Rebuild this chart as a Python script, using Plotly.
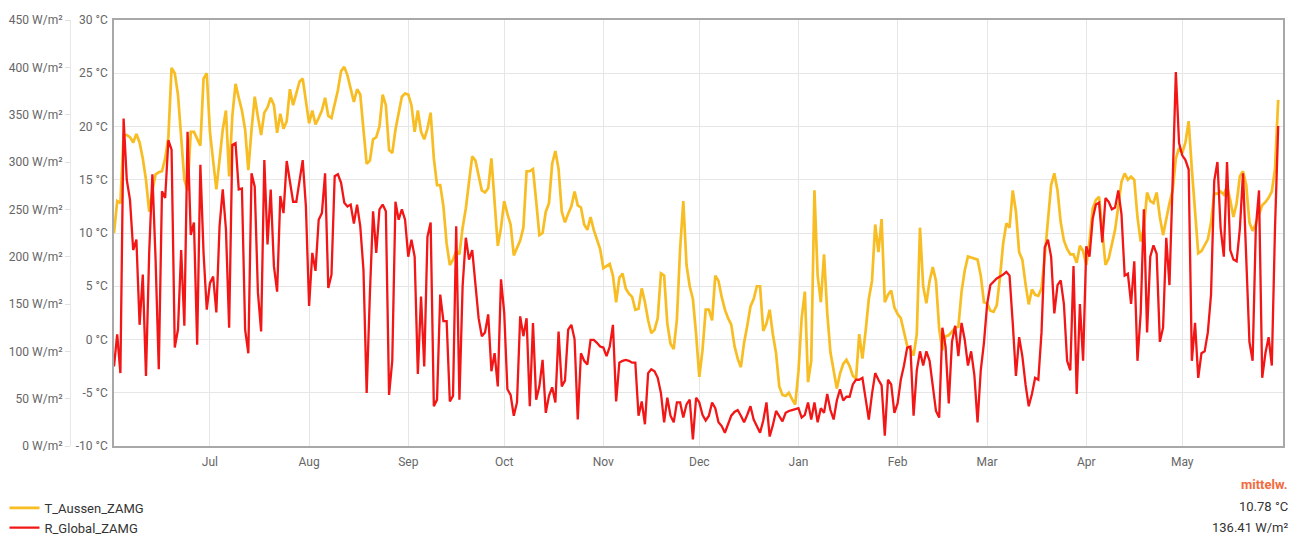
import pandas as pd
import plotly.graph_objects as go

# daily means, 1 Jun 2022 - 31 May 2023
dates = pd.date_range("2022-06-01", "2023-05-31", freq="D")

# T_Aussen_ZAMG in °C, one list per month
t_jun = [10.0, 13.0, 12.8, 19.2, 19.2, 19.0, 18.5, 19.3, 18.5, 17.0, 15.0, 12.0, 14.0, 15.5, 15.7,
         15.8, 17.0, 19.0, 25.5, 25.0, 23.0, 18.5, 15.0, 14.0, 19.5, 19.5, 18.8, 18.2, 24.5, 25.0]
t_jul = [19.5, 16.5, 14.1, 16.9, 19.7, 21.5, 15.3, 21.0, 24.0, 22.7, 21.5, 19.7, 15.9, 19.7, 22.8,
         20.9, 19.2, 21.3, 21.8, 22.7, 22.0, 19.4, 21.2, 19.8, 20.5, 23.5, 22.0, 23.1, 24.2, 24.5, 22.5]
t_aug = [20.3, 21.5, 20.2, 20.8, 21.5, 22.7, 21.0, 20.8, 22.2, 23.4, 25.2, 25.6, 24.8, 23.5, 22.3,
         23.5, 23.0, 19.7, 16.5, 16.8, 18.8, 19.0, 20.0, 23.0, 22.0, 17.8, 17.5, 19.7, 21.3, 22.8, 23.1]
t_sep = [23.0, 22.0, 19.5, 21.5, 19.5, 18.8, 19.8, 21.3, 17.0, 14.5, 14.5, 12.5, 9.0, 7.0, 7.5,
         8.3, 8.0, 10.5, 12.3, 14.8, 17.2, 16.8, 15.5, 14.0, 13.8, 14.2, 17.0, 13.0, 8.8, 10.5]
t_oct = [13.0, 11.8, 10.8, 7.9, 8.6, 9.3, 10.5, 15.8, 15.8, 16.0, 13.0, 9.8, 10.0, 12.0, 12.8,
         16.5, 17.7, 16.0, 12.0, 11.0, 11.8, 12.5, 13.9, 12.6, 12.4, 10.8, 10.3, 11.5, 10.3, 9.3, 8.5]
t_nov = [6.7, 6.9, 7.1, 6.0, 3.5, 5.8, 6.2, 4.8, 4.3, 4.0, 2.8, 2.9, 4.8, 3.5, 1.8,
         0.6, 0.9, 2.0, 6.2, 6.0, 1.5, -0.4, -0.9, 1.9, 8.5, 13.0, 7.0, 5.0, 3.8, 0.5]
t_dec = [-3.5, -1.0, 2.8, 2.8, 1.8, 6.0, 5.5, 4.0, 2.8, 2.0, 1.4, -0.6, -1.8, -2.6, -0.3,
         1.3, 3.1, 3.8, 5.0, 5.0, 0.8, 1.5, 2.8, 0.5, -1.3, -4.4, -5.2, -5.3, -5.0, -5.6, -6.1]
t_jan = [-3.0, 2.0, 4.5, -4.0, -2.0, 14.0, 6.0, 3.5, 8.0, 2.5, -1.2, -2.8, -4.6, -3.2, -2.3,
         -1.9, -2.5, -3.4, -3.7, 0.5, -1.8, 0.8, 3.8, 5.5, 10.8, 8.2, 11.3, 3.5, 4.2, 4.6, 3.0]
t_feb = [2.4, 2.0, 0.7, -0.6, -0.9, -1.5, 0.5, 10.5, 5.0, 3.4, 5.5, 6.8, 5.5, 1.0, -1.0,
         0.3, 0.4, 0.8, 1.1, 1.2, 4.5, 6.5, 7.8, 7.7, 7.6, 7.5, 6.0, 3.5]
t_mar = [3.4, 2.7, 2.6, 3.2, 5.8, 9.0, 10.9, 10.5, 14.0, 12.0, 8.2, 7.5, 5.2, 3.3, 4.7,
         4.2, 4.1, 4.8, 7.8, 11.5, 14.5, 15.6, 14.0, 11.0, 9.3, 8.5, 8.0, 8.0, 7.2, 8.8, 8.3]
t_apr = [7.0, 9.2, 12.3, 13.1, 13.4, 10.0, 7.0, 7.6, 9.0, 10.3, 12.5, 14.8, 15.6, 15.0, 15.3,
         15.0, 11.5, 9.2, 10.5, 13.8, 13.0, 12.8, 13.8, 11.5, 9.8, 11.5, 12.8, 14.0, 17.0, 18.0]
t_may = [17.5, 18.5, 20.5, 16.0, 12.0, 8.1, 8.3, 8.9, 9.4, 11.0, 13.7, 13.7, 13.9, 13.6, 14.4,
         13.1, 11.5, 12.8, 15.3, 15.8, 14.5, 11.0, 10.2, 10.9, 11.8, 12.6, 12.9, 13.3, 13.9, 16.0, 22.5]

# R_Global_ZAMG in W/m²
r_jun = [84, 118, 77, 346, 281, 260, 207, 218, 128, 181, 74, 204, 287, 197, 81,
         269, 262, 323, 313, 104, 123, 207, 127, 332, 223, 236, 107, 297, 204, 144]
r_jul = [172, 179, 141, 232, 271, 229, 125, 318, 320, 271, 272, 123, 98, 288, 274,
         162, 121, 302, 213, 271, 190, 163, 264, 246, 301, 281, 258, 258, 281, 302, 253]
r_aug = [148, 204, 185, 239, 246, 288, 167, 181, 285, 287, 278, 257, 253, 255, 235,
         255, 232, 186, 56, 160, 248, 204, 250, 255, 248, 54, 90, 258, 239, 250, 239]
r_sep = [200, 218, 200, 76, 158, 84, 221, 236, 42, 49, 160, 132, 132, 47, 53,
         232, 49, 169, 220, 197, 207, 170, 135, 116, 120, 139, 79, 98, 63, 176]
r_oct = [141, 60, 54, 32, 46, 137, 116, 135, 42, 130, 49, 63, 91, 35, 53,
         62, 46, 121, 63, 69, 123, 128, 113, 28, 98, 90, 86, 112, 112, 109, 105]
r_nov = [104, 95, 105, 128, 47, 88, 90, 91, 90, 88, 88, 32, 47, 23, 77,
         81, 79, 72, 56, 25, 51, 32, 25, 46, 46, 30, 44, 49, 7, 51]
r_dec = [46, 33, 27, 32, 46, 40, 25, 21, 14, 22, 32, 36, 38, 32, 25,
         33, 42, 28, 21, 14, 27, 46, 10, 22, 37, 32, 26, 35, 37, 38, 39]
r_jan = [40, 30, 33, 46, 28, 46, 25, 40, 35, 55, 38, 28, 48, 60, 48,
         52, 52, 65, 70, 70, 72, 50, 28, 55, 77, 70, 64, 11, 70, 65, 35]
r_feb = [45, 70, 85, 104, 105, 32, 80, 100, 85, 100, 90, 60, 37, 30, 125,
         105, 45, 110, 127, 95, 130, 112, 85, 100, 75, 25, 80, 109]
r_mar = [150, 170, 174, 177, 179, 181, 184, 180, 130, 74, 115, 95, 65, 42, 55,
         72, 70, 120, 210, 218, 200, 140, 170, 175, 150, 90, 80, 190, 55, 150, 90]
r_apr = [211, 200, 240, 255, 257, 215, 262, 258, 250, 252, 270, 245, 180, 182, 150,
         195, 90, 140, 250, 120, 200, 212, 203, 110, 125, 220, 170, 280, 395, 320]
r_may = [307, 302, 292, 90, 130, 72, 98, 100, 120, 160, 280, 300, 230, 200, 300,
         207, 197, 195, 229, 288, 190, 110, 90, 230, 270, 72, 98, 115, 85, 230, 338]

temp = t_jun + t_jul + t_aug + t_sep + t_oct + t_nov + t_dec + t_jan + t_feb + t_mar + t_apr + t_may
rad = r_jun + r_jul + r_aug + r_sep + r_oct + r_nov + r_dec + r_jan + r_feb + r_mar + r_apr + r_may

month_ticks = pd.date_range("2022-07-01", "2023-05-01", freq="MS")
temp_ticks = [-10, -5, 0, 5, 10, 15, 20, 25, 30]
rad_ticks = [0, 50, 100, 150, 200, 250, 300, 350, 400, 450]

mean_label = "mittelw."
mean_temp = "10.78 °C"
mean_rad = "136.41 W/m²"

fig = go.Figure()
fig.add_trace(go.Scatter(x=dates, y=temp, name="T_Aussen_ZAMG", mode="lines",
                         line=dict(color="#f7bd23", width=2.7)))
fig.add_trace(go.Scatter(x=dates, y=rad, name="R_Global_ZAMG", mode="lines", yaxis="y2",
                         line=dict(color="#f21616", width=2.3)))

grid = "#e6e6e6"
frame = "#a8a8a8"
tick_font = dict(family="Roboto", size=12, color="#666666")

# the page body has an 8px margin, so the figure is sized/placed to land on the same pixels
fig.update_layout(
    width=1293, height=528,
    margin=dict(l=62, r=18, t=12, b=90, autoexpand=False),
    paper_bgcolor="white", plot_bgcolor="white",
    font=dict(family="Roboto", size=12, color="#333333"),
    xaxis=dict(type="date", domain=[44 / 1213, 1], automargin=False,
               range=["2022-06-01", "2023-06-01 12:00"],
               tickvals=month_ticks, tickformat="%b", ticklabelstandoff=4,
               showgrid=True, gridcolor=grid, gridwidth=1,
               showline=True, linecolor=frame, linewidth=1.5, mirror=True,
               ticks="", zeroline=False, tickfont=tick_font),
    yaxis=dict(range=[-10, 30], tickvals=temp_ticks, automargin=False,
               ticktext=[f"{v} °C" for v in temp_ticks],
               showgrid=True, gridcolor=grid, gridwidth=1,
               showline=True, linecolor=frame, linewidth=1.5, mirror=True,
               ticks="outside", ticklen=2, tickcolor="rgba(0,0,0,0)",
               zeroline=False, tickfont=tick_font),
    yaxis2=dict(range=[0, 450], tickvals=rad_ticks, automargin=False,
                ticktext=[f"{v} W/m²" for v in rad_ticks],
                overlaying="y", side="left", anchor="free", position=0,
                showgrid=False, showline=True, linecolor="#e8e8e8", linewidth=1,
                ticks="outside", ticklen=5, tickcolor="#e0e0e0",
                zeroline=False, tickfont=tick_font),
    showlegend=True,
    legend=dict(x=-0.054, y=-0.11, xanchor="left", yanchor="top",
                orientation="v", bgcolor="rgba(0,0,0,0)",
                font=dict(family="Roboto", size=13, color="#333333"),
                itemwidth=30, tracegroupgap=0),
    hovermode="x unified",
)

fig.add_annotation(text=f"<b>{mean_label}</b>", xref="paper", yref="paper", x=1, y=-0.0915,
                   xanchor="right", yanchor="middle", xshift=7, showarrow=False,
                   font=dict(family="Roboto", size=13, color="#f26a3d"))
fig.add_annotation(text=mean_temp, xref="paper", yref="paper", x=1, y=-0.143,
                   xanchor="right", yanchor="middle", xshift=7, showarrow=False,
                   font=dict(family="Roboto", size=13, color="#333333"))
fig.add_annotation(text=mean_rad, xref="paper", yref="paper", x=1, y=-0.192,
                   xanchor="right", yanchor="middle", xshift=7, showarrow=False,
                   font=dict(family="Roboto", size=13, color="#333333"))

fig.write_html("out.html")
